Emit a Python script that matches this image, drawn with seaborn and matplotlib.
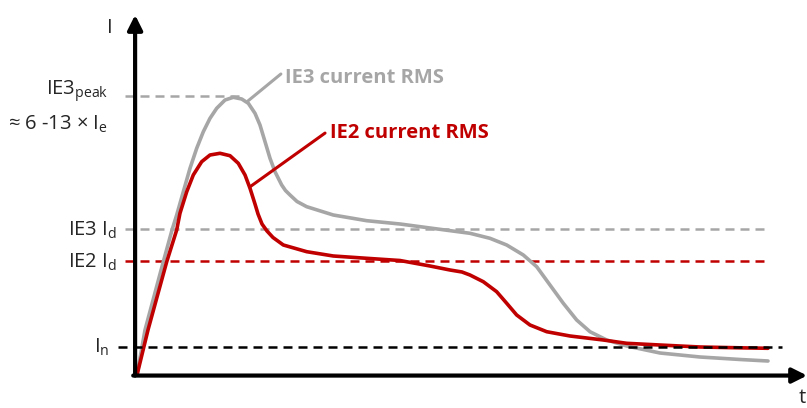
import numpy as np
import matplotlib
matplotlib.use("Agg")
import matplotlib.pyplot as plt
import seaborn as sns

sns.set_style("white")
plt.rcParams["font.family"] = ["Open Sans", "DejaVu Sans"]
plt.rcParams["mathtext.fontset"] = "custom"
plt.rcParams["mathtext.rm"] = "Open Sans"
plt.rcParams["mathtext.it"] = "Open Sans"

GRAY = "#a6a6a6"
RED = "#c00000"

# reference levels (in units of In)
level_In = 1.0
level_IE2_Id = 4.07
level_IE3_Id = 5.21
level_IE3_peak = 9.96

# IE3 current RMS
ie3_t = [0.0, 0.127, 0.417, 0.555, 0.629, 0.734, 0.840, 0.946, 1.051, 1.157,
         1.263, 1.395, 1.526, 1.659, 1.764, 1.870, 1.949, 2.029, 2.108, 2.187,
         2.293, 2.353, 2.425, 2.536, 2.689, 3.111, 3.640, 4.168, 4.643, 5.277,
         5.594, 5.859, 6.122, 6.334, 6.545, 6.756, 6.968, 7.179, 7.444, 7.761,
         8.288, 8.922, 9.556, 10.0]
ie3_I = [0.0, 1.607, 4.046, 5.179, 5.714, 6.546, 7.382, 8.096, 8.689, 9.168,
         9.525, 9.821, 9.918, 9.857, 9.704, 9.346, 8.929, 8.332, 7.739, 7.261,
         6.786, 6.589, 6.429, 6.196, 6.011, 5.714, 5.511, 5.393, 5.250, 5.061,
         4.882, 4.643, 4.286, 3.868, 3.214, 2.561, 1.964, 1.546, 1.250, 1.036,
         0.786, 0.643, 0.554, 0.5]

# IE2 current RMS
ie2_t = [0.0, 0.174, 0.471, 0.629, 0.681, 0.788, 0.892, 1.025, 1.157, 1.315,
         1.474, 1.605, 1.712, 1.791, 1.870, 1.918, 1.981, 2.060, 2.155, 2.319,
         2.689, 3.111, 3.640, 4.168, 4.643, 4.960, 5.150, 5.277, 5.488, 5.700,
         5.859, 6.017, 6.228, 6.493, 6.862, 7.390, 7.761, 8.288, 8.922, 9.556,
         10.0]
ie2_I = [0.0, 1.607, 4.046, 5.179, 5.775, 6.546, 7.143, 7.618, 7.857, 7.918,
         7.832, 7.561, 7.143, 6.668, 6.107, 5.750, 5.393, 5.143, 4.911, 4.643,
         4.404, 4.250, 4.168, 4.089, 3.893, 3.750, 3.679, 3.571, 3.332, 2.975,
         2.561, 2.143, 1.786, 1.546, 1.393, 1.250, 1.132, 1.071, 1.0, 0.971,
         0.954]

fig = plt.figure(figsize=(8.07, 4.08), dpi=100)
ax = fig.add_axes([0, 0, 1, 1])
ax.set_xlim(-137 / 63.1, (807 - 137) / 63.1)
ax.set_ylim(-33 / 28, 375 / 28)
ax.axis("off")

# dashed reference lines
dash = dict(lw=1.8, dashes=(3.6, 2.4))
ax.plot([-0.19, 1.63], [level_IE3_peak] * 2, color=GRAY, zorder=1, **dash)
ax.plot([-0.19, 10.0], [level_IE3_Id] * 2, color=GRAY, zorder=1, **dash)
ax.plot([-0.19, 10.0], [level_IE2_Id] * 2, color=RED, zorder=1, **dash)

# curves
sns.lineplot(x=ie3_t, y=ie3_I, sort=False, color=GRAY, lw=2.6, ax=ax, zorder=2)
sns.lineplot(x=ie2_t, y=ie2_I, sort=False, color=RED, lw=2.6, ax=ax, zorder=3)
for line in ax.lines:
    line.set_solid_capstyle("round")
    line.set_solid_joinstyle("round")

ax.plot([-0.30, 10.22], [level_In] * 2, color="black", zorder=4, **dash)

# axes with arrows
arrow = dict(arrowstyle="-|>", lw=3, color="black", mutation_scale=22,
             shrinkA=0, shrinkB=0)
ax.annotate("", xy=(-0.03, 12.86), xytext=(-0.03, -0.02), arrowprops=arrow, zorder=5)
ax.annotate("", xy=(10.62, -0.02), xytext=(-0.06, -0.02), arrowprops=arrow, zorder=5)
ax.text(-0.43, 12.4, "I", fontsize=14.5, ha="center", va="center")
ax.text(10.55, -1.0, "t", fontsize=14.5, ha="center", va="baseline")

# left labels
fs = 14.5
ax.text(-0.46, 10.0, r"IE3$_{\mathrm{peak}}$", fontsize=fs, ha="right", va="baseline")
ax.text(-0.46, 8.75, r"≈ 6 -13 × I$_{\mathrm{e}}$", fontsize=fs, ha="right", va="baseline")
ax.text(-0.32, level_IE3_Id - 0.24, r"IE3 I$_{\mathrm{d}}$", fontsize=fs, ha="right", va="baseline")
ax.text(-0.32, level_IE2_Id - 0.24, r"IE2 I$_{\mathrm{d}}$", fontsize=fs, ha="right", va="baseline")
ax.text(-0.43, level_In - 0.2, r"I$_{\mathrm{n}}$", fontsize=fs, ha="right", va="baseline")

# curve labels with leaders
ax.plot([1.76, 2.28], [9.79, 10.75], color=GRAY, lw=2.2, zorder=2)
ax.text(2.35, 10.61, "IE3 current RMS", color=GRAY, fontsize=14.5,
        fontweight="bold", ha="left", va="center")
ax.plot([1.79, 2.98], [6.72, 8.64], color=RED, lw=2.2, zorder=3)
ax.text(3.06, 8.64, "IE2 current RMS", color=RED, fontsize=14.5,
        fontweight="bold", ha="left", va="center")

fig.savefig("out.png", dpi=100)
